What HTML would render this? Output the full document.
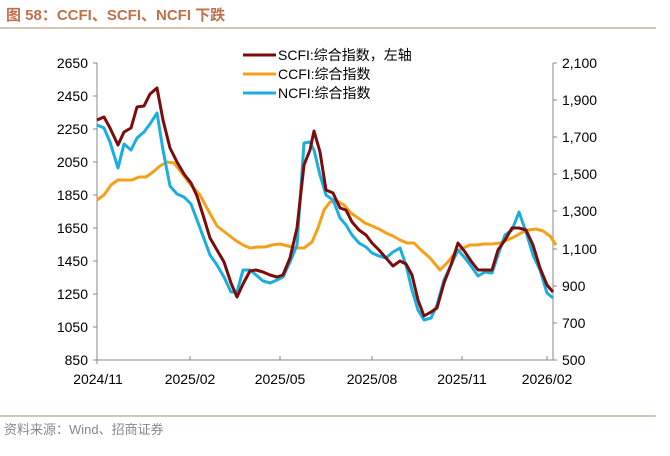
<!DOCTYPE html>
<html><head><meta charset="utf-8"><style>
body{margin:0;background:#fff;width:670px;height:451px;overflow:hidden;font-family:"Liberation Sans","Noto Sans CJK SC",sans-serif}
</style></head><body>
<svg width="670" height="451" xmlns="http://www.w3.org/2000/svg" font-family="Liberation Sans, Noto Sans CJK SC, sans-serif">
<text x="6" y="20" font-size="15" font-weight="bold" fill="#C0704B">图 58：CCFI、SCFI、NCFI 下跌</text>
<line x1="0" y1="28" x2="656" y2="28" stroke="#B58A68" stroke-width="1"/>
<g stroke="#888" stroke-width="1" fill="none">
<line x1="97" y1="63" x2="97" y2="360"/>
<line x1="553" y1="63" x2="553" y2="360"/>
<line x1="97" y1="360" x2="553" y2="360"/>
<path d="M93 63h4M93 96h4M93 129h4M93 162h4M93 195h4M93 228h4M93 261h4M93 294h4M93 327h4M93 360h4"/>
<path d="M553 63h4M553 100h4M553 137h4M553 174h4M553 211h4M553 249h4M553 286h4M553 323h4M553 360h4"/>
<path d="M97 360v4M190 356v4M280 356v4M372 356v4M462 356v4M547 356v4"/>
</g>
<g font-size="14" fill="#000" text-anchor="end">
<text x="88" y="68">2650</text><text x="88" y="101">2450</text><text x="88" y="134">2250</text><text x="88" y="167">2050</text><text x="88" y="200">1850</text><text x="88" y="233">1650</text><text x="88" y="266">1450</text><text x="88" y="299">1250</text><text x="88" y="332">1050</text><text x="88" y="365">850</text>
</g>
<g font-size="14" fill="#000">
<text x="562" y="68">2,100</text><text x="562" y="105">1,900</text><text x="562" y="142">1,700</text><text x="562" y="179">1,500</text><text x="562" y="216">1,300</text><text x="562" y="254">1,100</text><text x="562" y="291">900</text><text x="562" y="328">700</text><text x="562" y="365">500</text>
</g>
<g font-size="14" fill="#000" text-anchor="middle">
<text x="98" y="384">2024/11</text><text x="190" y="384">2025/02</text><text x="280" y="384">2025/05</text><text x="372" y="384">2025/08</text><text x="462" y="384">2025/11</text><text x="547" y="384">2026/02</text>
</g>
<g fill="none" stroke-width="3" stroke-linejoin="round">
<polyline stroke="#F5A01A" points="97,200 104,195 111,185 118,180 125,180 132,180 139,177 146,177 153,172 160,166 167,162 174,163 181,172 190,184 200,195 208,210 217,226 226,233 235,240 243,245 250,248 258,247 265,247 272,245 280,244 288,246 296,248 304,248 312,242 318,228 324,210 330,202 337,201 344,205 351,213 358,218 365,223 372,226 379,229 386,233 393,236 400,240 407,243 414,243 421,250 430,258 440,270 447,263 455,253 463,248 470,245 477,245 484,244 492,244 500,243 507,240 514,237 521,233 528,230 536,229 543,231 550,236 556,245"/>
<polyline stroke="#1AAEE0" points="97,125 104,128 110,142 118,168 124,144 131,150 137,138 144,132 150,124 157,113 163,150 170,186 177,194 184,197 191,204 197,220 203,236 210,255 217,265 224,277 231,292 237,292 243,270 250,270 256,275 263,281 270,283 277,280 283,277 290,262 297,245 304,143 310,142 314,150 320,175 326,195 333,200 340,218 346,225 352,235 359,243 366,247 372,253 379,256 386,258 393,252 400,248 406,265 412,290 418,310 424,320 431,318 437,305 444,280 451,265 458,250 465,258 471,266 478,276 485,272 492,273 498,255 505,235 512,230 519,212 526,232 533,255 540,270 547,293 553,298"/>
<polyline stroke="#7B0C0C" points="97,120 104,117 110,128 118,145 124,132 131,128 137,107 144,106 150,94 157,88 163,120 170,148 177,162 184,174 191,183 197,196 203,215 210,238 217,250 224,262 231,283 237,297 243,284 250,271 256,270 263,272 270,275 277,277 283,275 290,258 297,228 304,165 310,150 314,131 320,152 326,190 333,193 340,208 346,210 352,222 359,230 366,235 372,243 379,250 386,258 393,266 400,261 406,264 412,275 418,300 424,316 431,312 437,308 444,283 451,265 458,243 465,252 471,261 478,270 485,270 492,270 498,250 505,240 512,228 519,228 526,230 533,245 540,268 547,285 553,292"/>
</g>
<g stroke-width="3">
<line x1="243" y1="55" x2="276" y2="55" stroke="#7B0C0C"/>
<line x1="243" y1="74" x2="276" y2="74" stroke="#F5A01A"/>
<line x1="243" y1="93" x2="276" y2="93" stroke="#1AAEE0"/>
</g>
<g font-size="14" fill="#000">
<text x="278" y="60">SCFI:综合指数，左轴</text>
<text x="278" y="79">CCFI:综合指数</text>
<text x="278" y="98">NCFI:综合指数</text>
</g>
<line x1="0" y1="416" x2="656" y2="416" stroke="#B58A68" stroke-width="1"/>
<text x="4" y="434" font-size="13" fill="#888">资料来源：Wind、招商证券</text>
</svg>
</body></html>
